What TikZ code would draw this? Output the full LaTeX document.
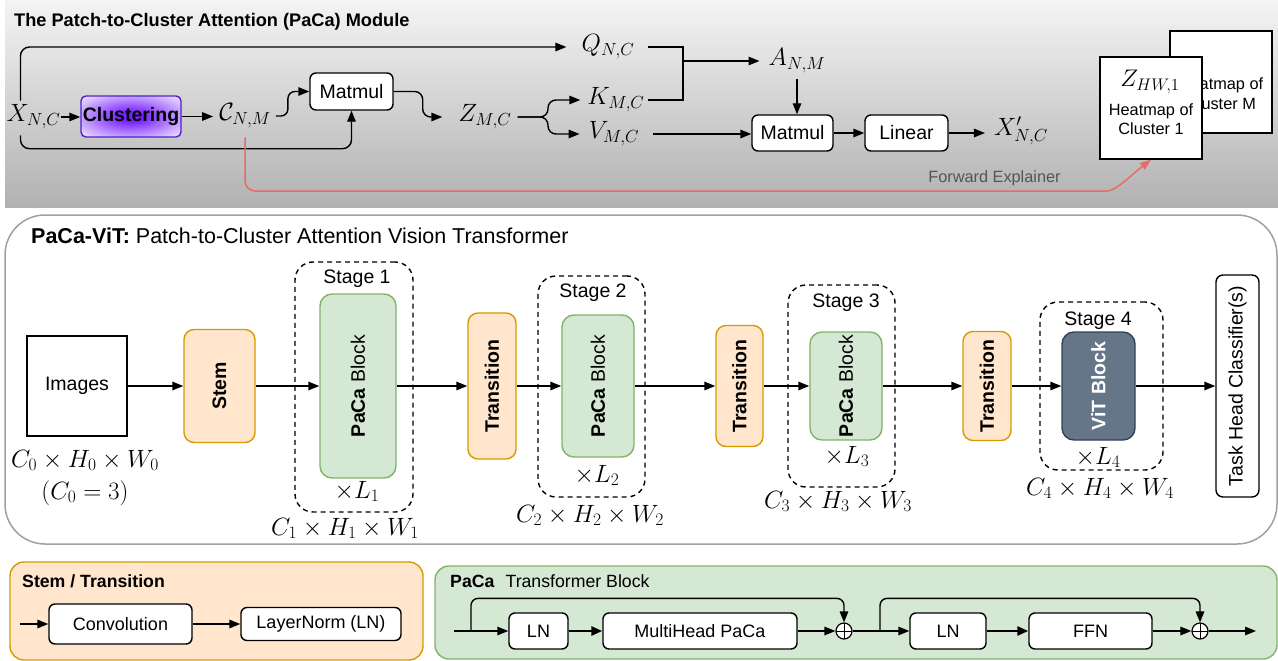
\RequirePackage{fix-cm}
\documentclass[tikz,border=0pt]{standalone}
\usepackage[no-math]{fontspec}
\setmainfont{Liberation Sans}
\usetikzlibrary{arrows.meta,calc}

\definecolor{oFill}{HTML}{FFE6CC}
\definecolor{oLine}{HTML}{D79B00}
\definecolor{gFill}{HTML}{D5E8D4}
\definecolor{gLine}{HTML}{82B366}
\definecolor{vFill}{HTML}{647687}
\definecolor{vLine}{HTML}{314354}
\definecolor{redLn}{HTML}{EA6B66}
\definecolor{frameLn}{HTML}{A0A0A0}
\definecolor{shTop}{HTML}{F4F4F4}
\definecolor{shBot}{HTML}{B1B1B1}
\definecolor{glow}{HTML}{7A22FF}
\definecolor{glowLine}{HTML}{4C1FD6}
\definecolor{noteGrey}{HTML}{555555}

\newcommand{\szHead}{\fontsize{17.7}{21}\selectfont}
\newcommand{\szTop}{\fontsize{18.2}{21}\selectfont}
\newcommand{\szBox}{\fontsize{19.5}{23}\selectfont}
\newcommand{\szMid}{\fontsize{21.5}{25}\selectfont}
\newcommand{\szNote}{\fontsize{16.3}{20}\selectfont}
\newcommand{\szLow}{\fontsize{18}{21}\selectfont}
\newcommand{\szMath}{\fontsize{25}{29}\selectfont}

\pgfdeclareradialshading{clusterglow}{\pgfpoint{0bp}{0bp}}{color(0bp)=(glow); color(6bp)=(glow); color(38bp)=(white); color(70bp)=(white)}

\begin{document}
\begin{tikzpicture}[x=1pt,y=-1pt,
  every node/.style={inner sep=0pt},
  conn/.style={line width=1.4pt, -{Triangle[length=11pt,width=8.5pt]}},
  plain/.style={line width=1.4pt},
  thick conn/.style={line width=2.6pt, -{Triangle[length=11pt,width=9pt]}},
  wbox/.style={draw, fill=white, line width=1.4pt, rounded corners=6pt, font=\szBox},
  lowbox/.style={draw, fill=white, line width=1.4pt, rounded corners=6pt, font=\szLow},
  mth/.style={font=\szMath},
  orangebox/.style={draw=oLine, fill=oFill, line width=1.4pt, rounded corners=10pt},
  greenbox/.style={draw=gLine, fill=gFill, line width=1.4pt, rounded corners=12pt},
  stagebox/.style={draw, line width=1.4pt, dash pattern=on 5pt off 4pt, rounded corners=18pt},
  vert/.style={rotate=90, font=\szBox},
  addc/.style={circle, draw, fill=white, line width=1.2pt, minimum size=16pt,
    path picture={\draw[line width=1pt] (path picture bounding box.north) -- (path picture bounding box.south)
      (path picture bounding box.west) -- (path picture bounding box.east);}},
  redline/.style={draw=redLn, line width=1.5pt, -{Triangle[length=11pt,width=8pt]}, color=redLn}
]
\useasboundingbox (0,0) rectangle (1278,661);

% ---------------- PaCa module ----------------
\shade[top color=shTop, bottom color=shBot] (5,0) rectangle (1278,207);
\node[anchor=base west, font=\szTop\bfseries] (ttl) at (14,27) {The Patch-to-Cluster Attention (PaCa) Module};

\node[mth] (xnc) at (33.5,117) {$X_{N,C}$};
\node[draw=glowLine, line width=1.4pt, rounded corners=5pt, shade, shading=clusterglow,
      minimum width=100pt, minimum height=41pt, font=\szBox] (clus) at (131,116.5) {\textbf{Clustering}};
\node[mth] (cnm) at (245,116) {$\mathcal{C}_{N,M}$};
\node[wbox, minimum width=83pt, minimum height=37pt] (mat1) at (351.5,91.5) {Matmul};
\node[mth] (znc) at (485,117) {$Z_{M,C}$};
\node[mth] (qnc) at (608,47) {$Q_{N,C}$};
\node[mth] (knc) at (616,100) {$K_{M,C}$};
\node[mth] (vnc) at (614,134) {$V_{M,C}$};
\node[mth] (anm) at (797,61) {$A_{N,M}$};
\node[wbox, minimum width=81pt, minimum height=36pt] (mat2) at (792.5,133) {Matmul};
\node[wbox, minimum width=83pt, minimum height=36pt] (lin) at (906.5,133) {Linear};
\node[mth] (xpr) at (1021,131) {$X'_{N,C}$};

\coordinate (zfork) at (548,117);
\coordinate (qkx) at (683,0);
\coordinate (redturn) at (1097,191);

\draw[conn] (xnc.east) -- (xnc.east -| clus.west);
\draw[conn] (clus.east) -- ([xshift=-6pt]clus.east -| cnm.west);
\draw[conn, rounded corners=7pt] ([xshift=5pt]cnm.east) -- ++(12,0) |- (mat1.west);
\draw[conn, rounded corners=9pt] ([xshift=14pt,yshift=4pt]xnc.north west) |- ([xshift=-15pt]qnc.west);
\draw[conn, rounded corners=9pt] ([xshift=14pt,yshift=-6pt]xnc.south west) |- ($(mat1.south)+(0,38)$) -- (mat1.south);
\draw[conn, rounded corners=8pt] (mat1.east) -- ++(29,0) |- ([xshift=-16pt]znc.west);
\draw[conn, rounded corners=8pt] ([xshift=6pt]znc.east) -- (zfork) |- ([xshift=-7pt]knc.west);
\draw[conn, rounded corners=8pt] ([xshift=6pt]znc.east) -- (zfork) |- ([xshift=-9pt]vnc.west);
\draw[plain] ([xshift=13pt]qnc.east) -| (qkx |- knc.east) -- ([xshift=3pt]knc.east);
\draw[conn] (qkx |- anm.west) -- ([xshift=-9pt]anm.west);
\draw[conn] ([yshift=-6pt]anm.south) -- (anm.south |- mat2.north);
\draw[conn] ([xshift=14pt]vnc.east) -- (vnc.east -| mat2.west);
\draw[conn] (mat2.east) -- (lin.west);
\draw[conn] (lin.east) -- ([xshift=-9pt]xpr.west |- lin.east);

% heatmaps of the clusters
\node[draw, fill=white, line width=1.4pt, minimum width=102pt, minimum height=102pt] (hmB) at (1221,82) {};
\node[anchor=base, font=\szNote] (hmBa) at (1221,90) {Heatmap of};
\node[anchor=base, font=\szNote] (hmBb) at (1221,110) {Cluster M};
\node[draw, fill=white, line width=1.4pt, minimum width=102pt, minimum height=102pt] (hmF) at (1151,108) {};
\node[mth, anchor=base, font=\fontsize{24}{28}\selectfont] (zhw) at (1150,87) {$Z_{HW,1}$};
\node[anchor=base, font=\szNote] (hmFa) at (1151,115) {Heatmap of};
\node[anchor=base, font=\szNote] (hmFb) at (1151,135) {Cluster 1};

\draw[redline, rounded corners=10pt] ([yshift=-9pt]cnm.south) |- (redturn)
  [sharp corners] .. controls (1116,191) and (1130,176) .. (hmF.south);
\node[anchor=base, font=\szNote, text=noteGrey] (fwd) at (994.5,182) {Forward Explainer};

% ---------------- PaCa-ViT ----------------
\node[draw=frameLn, fill=white, line width=1.5pt, rounded corners=40pt,
      minimum width=1272pt, minimum height=329pt] (vitframe) at (641,379.5) {};
\node[anchor=base west, font=\szMid] (vittl) at (31,243) {\textbf{PaCa-ViT:} Patch-to-Cluster Attention Vision Transformer};

\node[stagebox, minimum width=118pt, minimum height=250pt] (st1) at (354,387) {};
\node[stagebox, minimum width=107pt, minimum height=221pt] (st2) at (591.5,386.5) {};
\node[stagebox, minimum width=107pt, minimum height=202pt] (st3) at (841.5,386) {};
\node[stagebox, minimum width=123pt, minimum height=168pt] (st4) at (1101.5,386) {};
\node[anchor=base, font=\szBox] (st1t) at (357,283) {Stage 1};
\node[anchor=base, font=\szBox] (st2t) at (593,297) {Stage 2};
\node[anchor=base, font=\szBox] (st3t) at (846,307) {Stage 3};
\node[anchor=base, font=\szBox] (st4t) at (1098,325) {Stage 4};

\node[draw, line width=1.4pt, minimum width=100pt, minimum height=100pt, font=\szBox] (img) at (77,386) {Images};
\node[orangebox, minimum width=71pt, minimum height=113pt] (stem) at (219.5,386) {};
\node[greenbox, minimum width=76pt, minimum height=184pt] (pc1) at (358,386) {};
\node[orangebox, minimum width=48pt, minimum height=146pt] (tr1) at (492,386) {};
\node[greenbox, minimum width=72pt, minimum height=142pt] (pc2) at (598,386) {};
\node[orangebox, minimum width=47pt, minimum height=121pt] (tr2) at (739.5,386) {};
\node[greenbox, minimum width=72pt, minimum height=108pt] (pc3) at (846,386) {};
\node[orangebox, minimum width=48pt, minimum height=109pt] (tr3) at (987,386) {};
\node[draw=vLine, fill=vFill, line width=1.4pt, rounded corners=12pt, minimum width=73pt, minimum height=108pt] (vit) at (1098.5,386) {};
\node[draw, line width=1.4pt, rounded corners=7pt, minimum width=43pt, minimum height=222pt] (task) at (1237.5,386) {};

\node[vert] at (stem) {\textbf{Stem}};
\node[vert] at (pc1) {\textbf{PaCa} Block};
\node[vert] at (tr1) {\textbf{Transition}};
\node[vert] at (pc2) {\textbf{PaCa} Block};
\node[vert] at (tr2) {\textbf{Transition}};
\node[vert] at (pc3) {\textbf{PaCa} Block};
\node[vert] at (tr3) {\textbf{Transition}};
\node[vert, text=white] at (vit) {\textbf{ViT Block}};
\node[vert] at (task) {Task Head Classifier(s)};

\draw[conn] (img) -- (stem);
\draw[conn] (stem) -- (pc1);
\draw[conn] (pc1) -- (tr1);
\draw[conn] (tr1) -- (pc2);
\draw[conn] (pc2) -- (tr2);
\draw[conn] (tr2) -- (pc3);
\draw[conn] (pc3) -- (tr3);
\draw[conn] (tr3) -- (vit);
\draw[conn] (vit) -- (task);

\node[mth, anchor=base] (d0) at (85,467) {$C_0\times H_0\times W_0$};
\node[mth, anchor=base] (d0b) at (85,499) {$(C_0=3)$};
\node[mth, anchor=base] (l1) at (357,498) {$\times L_1$};
\node[mth, anchor=base] (d1) at (345,535) {$C_1\times H_1\times W_1$};
\node[mth, anchor=base] (l2) at (597,482) {$\times L_2$};
\node[mth, anchor=base] (d2) at (590,522) {$C_2\times H_2\times W_2$};
\node[mth, anchor=base] (l3) at (847,463) {$\times L_3$};
\node[mth, anchor=base] (d3) at (838,508) {$C_3\times H_3\times W_3$};
\node[mth, anchor=base] (l4) at (1098,464) {$\times L_4$};
\node[mth, anchor=base] (d4) at (1100,495) {$C_4\times H_4\times W_4$};

% ---------------- Stem / Transition ----------------
\node[draw=oLine, fill=oFill, line width=1.4pt, rounded corners=14pt, minimum width=413pt, minimum height=98pt] (stpanel) at (216.5,611) {};
\node[anchor=base west, font=\szHead\bfseries] (sttl) at (22,587) {Stem / Transition};
\node[lowbox, minimum width=143pt, minimum height=40pt] (conv) at (120.5,624) {Convolution};
\node[lowbox, minimum width=160pt, minimum height=33pt] (ln0) at (321,624) {LayerNorm (LN)};
\coordinate (stin) at (20,624);
\draw[conn] (stin) -- (conv);
\draw[conn] (conv) -- (ln0);

% ---------------- PaCa transformer block ----------------
\node[draw=gLine, fill=gFill, line width=1.4pt, rounded corners=14pt, minimum width=842pt, minimum height=93pt] (blkpanel) at (856,612.5) {};
\node[anchor=base west, font=\szHead] (blkttl) at (450,587) {\textbf{PaCa}\hspace{11pt}Transformer Block};
\node[lowbox, minimum width=59pt, minimum height=36pt] (ln1) at (538.5,631) {LN};
\node[lowbox, minimum width=194pt, minimum height=36pt] (mh) at (700,631) {MultiHead PaCa};
\node[addc] (add1) at (844,631) {};
\node[lowbox, minimum width=76pt, minimum height=36pt] (ln2) at (948,631) {LN};
\node[lowbox, minimum width=123pt, minimum height=36pt] (ffn) at (1090.5,631) {FFN};
\node[addc] (add2) at (1200,631) {};
\coordinate (bin) at (454,631);
\coordinate (skipA) at (471,631);
\coordinate (skipB) at (880,631);
\coordinate (bout) at (1256,631);

\draw[conn] (bin) -- (ln1);
\draw[thick conn] (ln1) -- (mh);
\draw[conn] (mh) -- (add1);
\draw[conn] (add1) -- (ln2);
\draw[thick conn] (ln2) -- (ffn);
\draw[conn] (ffn) -- (add2);
\draw[conn] (add2) -- (bout);
\draw[conn, rounded corners=7pt] (skipA) |- ($(add1.north)+(0,-24)$) -- (add1.north);
\draw[conn, rounded corners=7pt] (skipB) |- ($(add2.north)+(0,-24)$) -- (add2.north);
\end{tikzpicture}
\end{document}
